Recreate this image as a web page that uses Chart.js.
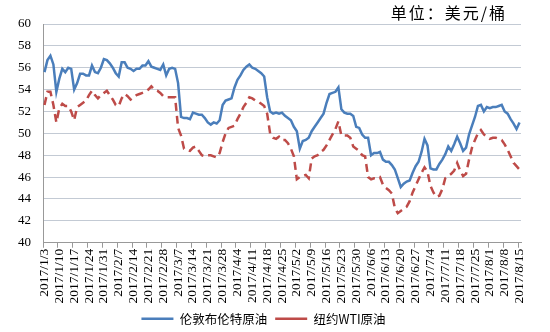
<!DOCTYPE html>
<html>
<head>
<meta charset="utf-8">
<script src="https://cdn.jsdelivr.net/npm/chart.js@4.4.1/dist/chart.umd.min.js"></script>
<style>
  html, body { margin: 0; padding: 0; background: #fff; }
  #wrap { width: 550px; height: 332px; }
</style>
</head>
<body>
<div id="wrap"><canvas id="oilChart"></canvas></div>
<script>
// weekly tick labels, one every 5 trading days
var tickLabels = ['2017/1/3', '2017/1/10', '2017/1/17', '2017/1/24', '2017/1/31',
  '2017/2/7', '2017/2/14', '2017/2/21', '2017/2/28', '2017/3/7', '2017/3/14',
  '2017/3/21', '2017/3/28', '2017/4/4', '2017/4/11', '2017/4/18', '2017/4/25',
  '2017/5/2', '2017/5/9', '2017/5/16', '2017/5/23', '2017/5/30', '2017/6/6',
  '2017/6/13', '2017/6/20', '2017/6/27', '2017/7/4', '2017/7/11', '2017/7/18',
  '2017/7/25', '2017/8/1', '2017/8/8', '2017/8/15'];

var seriesNames = ['伦敦布伦特原油', '纽约WTI原油'];
var unitText = '单位：美元/桶';

// daily prices (USD / barrel)
var brent = [
  55.6, 56.7, 57.1, 56.3, 53.8, 55.0, 55.9, 55.6, 56.0, 55.9,
  54.0, 54.6, 55.45, 55.45, 55.3, 55.3, 56.2, 55.6, 55.5, 56.0,
  56.8, 56.7, 56.4, 56.0, 55.5, 55.2, 56.5, 56.5, 56.0, 55.9,
  55.7, 55.9, 55.9, 56.2, 56.2, 56.6, 56.1, 56.0, 55.9, 55.8,
  56.3, 55.3, 55.9, 56.0, 55.9, 54.6, 51.5, 51.4, 51.4, 51.3,
  51.9, 51.8, 51.7, 51.7, 51.4, 51.0, 50.8, 51.0, 50.9, 51.2,
  52.6, 53.0, 53.1, 53.2, 54.2, 54.9, 55.3, 55.8, 56.1, 56.3,
  56.0, 55.9, 55.7, 55.5, 55.2, 53.3, 52.0, 51.8, 51.9, 51.8,
  51.9, 51.6, 51.4, 51.2, 50.6, 50.2, 48.6, 49.3, 49.4, 49.6,
  50.2, 50.6, 51.0, 51.4, 51.8, 52.8, 53.6, 53.7, 53.8, 54.2,
  52.2, 51.9, 51.8, 51.8, 51.6, 50.6, 50.5, 49.9, 49.6, 49.6,
  48.0, 48.2, 48.2, 48.3, 47.6, 47.4, 47.4, 47.1, 46.7, 45.9,
  45.1, 45.4, 45.6, 45.7, 46.4, 47.0, 47.4, 48.3, 49.5, 48.9,
  46.8, 46.7, 46.7, 47.2, 47.6, 48.1, 48.8, 48.4, 49.0, 49.7,
  49.1, 48.4, 48.7, 49.9, 50.7, 51.5, 52.5, 52.6, 52.0, 52.4,
  52.3, 52.4, 52.4, 52.5, 52.6, 52.0, 51.8, 51.3, 50.9, 50.4,
  51.0
];

var wti = [
  52.6, 53.8, 53.8, 52.6, 51.0, 52.3, 52.7, 52.5, 52.5, 52.0,
  51.2, 52.4, 52.6, 52.8, 53.0, 53.5, 53.9, 53.5, 53.2, 53.5,
  53.7, 53.9, 53.5, 53.1, 52.6, 52.5, 53.2, 53.6, 53.4, 53.1,
  53.3, 53.5, 53.6, 53.7, 53.8, 54.0, 54.3, 54.0, 53.9, 53.7,
  53.4, 53.3, 53.3, 53.3, 53.3, 50.5, 49.8, 48.6, 48.5, 48.4,
  48.7, 48.8, 48.4, 48.0, 47.9, 48.0, 48.0, 47.9, 47.8, 48.2,
  49.2, 50.0, 50.5, 50.6, 50.7, 51.3, 51.8, 52.4, 52.8, 53.3,
  53.2, 53.0, 52.9, 52.7, 52.5, 51.8, 50.0, 49.6, 49.5, 49.7,
  49.4, 49.4, 49.1, 48.6, 47.9, 45.8, 46.0, 46.1, 46.2, 45.9,
  47.7, 47.9, 48.0, 48.3, 48.5, 48.9, 49.4, 49.9, 50.4, 51.1,
  49.8, 49.8, 49.8, 49.6, 48.8, 48.6, 48.4, 48.0, 47.9, 46.0,
  45.8, 45.9, 45.9, 46.0, 45.3, 45.0, 44.8, 44.5, 43.2, 42.7,
  42.9, 43.1, 43.3, 43.8, 44.6, 45.2, 45.8, 46.4, 46.9, 46.5,
  45.2, 44.6, 44.2, 44.3, 44.9, 45.9, 46.1, 46.3, 46.6, 47.3,
  46.6, 46.1, 46.3, 47.6, 48.7, 49.4, 50.0, 50.3, 49.9, 49.7,
  49.5, 49.6, 49.6, 49.5, 49.4, 49.0, 48.5, 47.9, 47.3, 47.0,
  46.7
];

// one category per trading day, label only every 5th
var categories = [];
for (var i = 0; i < brent.length; i++) {
  categories.push(i % 5 === 0 ? tickLabels[i / 5] : '');
}

// unit note in the top right corner
var unitLabel = {
  id: 'unitLabel',
  afterDraw: function (chart) {
    var c = chart.ctx;
    c.save();
    c.font = '16px "Noto Sans CJK SC"';
    if ('letterSpacing' in c) c.letterSpacing = '2px';
    c.fillStyle = '#000';
    c.textAlign = 'right';
    c.textBaseline = 'middle';
    c.fillText(unitText, chart.chartArea.right - 14, 13);
    c.restore();
  }
};

var ctx = document.getElementById('oilChart').getContext('2d');
var oilChart = new Chart(ctx, {
  type: 'line',
  data: {
    labels: categories,
    datasets: [{
      label: seriesNames[0],
      data: brent,
      borderColor: '#4a7ebb',
      backgroundColor: '#4a7ebb',
      borderWidth: 2.5,
      pointRadius: 0,
      tension: 0
    }, {
      label: seriesNames[1],
      data: wti,
      borderColor: '#be4b48',
      backgroundColor: '#be4b48',
      borderWidth: 2.5,
      borderDash: [8, 5],
      pointRadius: 0,
      tension: 0
    }]
  },
  plugins: [unitLabel],
  options: {
    responsive: true,
    maintainAspectRatio: false,
    animation: false,
    layout: { padding: { left: 6, right: 29, top: 24, bottom: -3 } },
    plugins: {
      legend: {
        position: 'bottom',
        labels: {
          usePointStyle: true,
          pointStyle: 'line',
          pointStyleWidth: 32,
          boxHeight: 3,
          color: '#000',
          padding: 8,
          font: { family: '"Noto Sans CJK SC"', size: 12.5 }
        }
      },
      tooltip: { enabled: false }
    },
    scales: {
      x: {
        offset: true,
        grid: {
          offset: true,
          drawOnChartArea: false,
          tickLength: 5,
          color: function (c) { return c.index % 5 === 0 ? '#999' : 'transparent'; }
        },
        border: { color: '#999', width: 1 },
        ticks: {
          autoSkip: false,
          minRotation: 90,
          maxRotation: 90,
          padding: 1,
          color: '#000',
          font: { family: '"Liberation Serif"', size: 13.5 }
        }
      },
      y: {
        min: 40,
        max: 60,
        ticks: {
          stepSize: 2,
          padding: 12,
          color: '#000',
          font: { family: '"Liberation Serif"', size: 13 }
        },
        grid: { color: '#c3cad4', drawTicks: false },
        border: { color: '#999', width: 1 }
      }
    }
  }
});
</script>
</body>
</html>
